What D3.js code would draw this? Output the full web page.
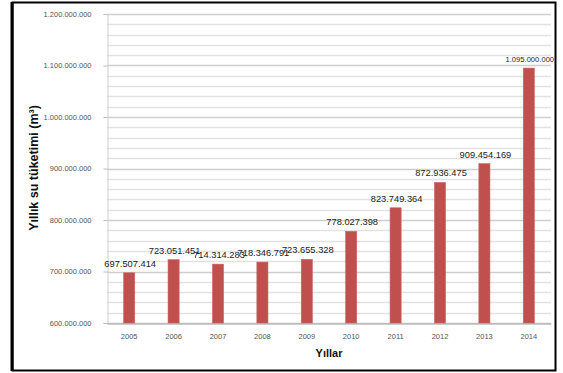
<!DOCTYPE html>
<html>
<head>
<meta charset="utf-8">
<script src="https://cdn.jsdelivr.net/npm/d3@7"></script>
<style>
    body { margin: 0; background: #fff; }
    svg { display: block; font-family: "Liberation Sans", Arial, sans-serif; }
</style>
</head>
<body>
<div id="chart"></div>
<script>
const years = ['2005', '2006', '2007', '2008', '2009', '2010', '2011', '2012', '2013', '2014'];
const consumption = [697507414, 723051451, 714314283, 718346791, 723655328, 778027398, 823749364, 872936475, 909454169, 1095000000];
const yTicks = [600000000, 700000000, 800000000, 900000000, 1000000000, 1100000000, 1200000000];
const yTitle = 'Yıllık su tüketimi (m³)';
const xTitle = 'Yıllar';

const width = 563, height = 373;
const margin = {top: 14, right: 12, bottom: 50, left: 107};

const trLocale = d3.formatLocale({decimal: ',', thousands: '.', grouping: [3], currency: ['', '']});
const fmt = trLocale.format(',d');

const svg = d3.select('#chart').append('svg')
    .attr('width', width)
    .attr('height', height);

// outer frame
svg.append('rect')
    .attr('x', 12.5).attr('y', 2.5)
    .attr('width', 543).attr('height', 368)
    .attr('fill', 'none')
    .attr('stroke', '#000')
    .attr('stroke-width', 2);
svg.append('line')
    .attr('x1', 12).attr('x2', 12)
    .attr('y1', 2).attr('y2', 371)
    .attr('stroke', '#000')
    .attr('stroke-width', 3);

const xScale = d3.scaleBand()
    .domain(years)
    .range([margin.left, 551])
    .paddingInner(0.75)
    .paddingOuter(0.375);

const yScale = d3.scaleLinear()
    .domain([600000000, 1200000000])
    .range([323, margin.top]);

// minor gridlines every 20M
const minor = d3.range(600000000, 1200000001, 20000000);
svg.append('g')
    .selectAll('line')
    .data(minor)
    .enter()
    .append('line')
    .attr('x1', margin.left)
    .attr('x2', xScale.range()[1])
    .attr('y1', d => Math.round(yScale(d)) + 0.5)
    .attr('y2', d => Math.round(yScale(d)) + 0.5)
    .attr('stroke', d => d % 100000000 === 0 ? '#cfcfcf' : '#e2e2e2')
    .attr('stroke-width', 1.3);

const yAxis = d3.axisLeft(yScale)
    .tickValues(yTicks)
    .tickFormat(fmt)
    .tickSize(4)
    .tickPadding(12);

const gYAxis = svg.append('g')
    .attr('transform', `translate(${margin.left + 0.5},0)`)
    .call(yAxis);
gYAxis.select('.domain').attr('stroke', '#cfcfcf');
gYAxis.selectAll('.tick line').attr('stroke', '#bdbdbd');
gYAxis.selectAll('.tick text')
    .attr('fill', '#555')
    .style('font-size', '7.5px');

const xAxis = d3.axisBottom(xScale)
    .tickSize(0)
    .tickPadding(10);

const gXAxis = svg.append('g')
    .attr('transform', `translate(0,${Math.round(yScale(600000000)) + 0.5})`)
    .call(xAxis);
gXAxis.select('.domain').attr('stroke', '#a6a6a6');
gXAxis.selectAll('.tick text')
    .attr('fill', '#555')
    .style('font-size', '7.5px');

// bars
svg.append('g')
    .selectAll('rect')
    .data(consumption)
    .enter()
    .append('rect')
    .attr('x', (d, i) => xScale(years[i]))
    .attr('y', d => yScale(d))
    .attr('width', xScale.bandwidth())
    .attr('height', d => yScale(600000000) - yScale(d))
    .attr('fill', '#C0504D')
    .attr('stroke', '#cc6663')
    .attr('stroke-width', 0.6);

// value labels
svg.append('g')
    .selectAll('text')
    .data(consumption)
    .enter()
    .append('text')
    .attr('x', (d, i) => xScale(years[i]) + xScale.bandwidth() / 2 + 1)
    .attr('y', d => yScale(d) - 6)
    .attr('text-anchor', 'middle')
    .attr('fill', '#222')
    .style('font-size', d => d >= 1000000000 ? '7.6px' : '9.3px')
    .text(d => fmt(d));

// axis titles
svg.append('text')
    .attr('transform', 'translate(38,168) rotate(-90)')
    .attr('text-anchor', 'middle')
    .style('font-size', '12.5px')
    .style('font-weight', 'bold')
    .attr('fill', '#111')
    .text(yTitle);

svg.append('text')
    .attr('x', 329)
    .attr('y', 357)
    .attr('text-anchor', 'middle')
    .style('font-size', '11px')
    .style('font-weight', 'bold')
    .attr('fill', '#111')
    .text(xTitle);
</script>
</body>
</html>
